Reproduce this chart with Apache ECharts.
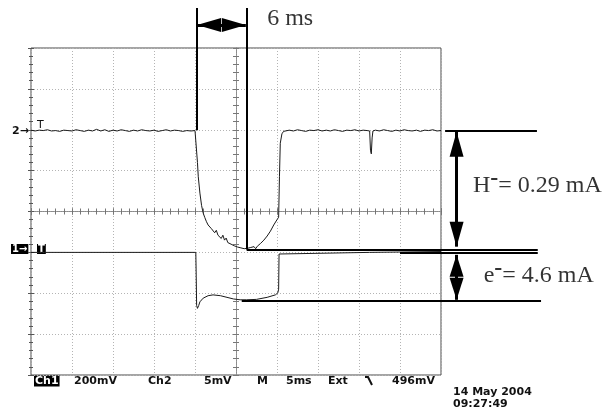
<!DOCTYPE html>
<html><head><meta charset="utf-8">
<script src="https://cdn.jsdelivr.net/npm/echarts@6/dist/echarts.min.js"></script>
<style>html,body{margin:0;padding:0;background:#fff}#c{width:609px;height:415px}</style>
</head><body><div id="c"></div>
<script>
// ---- data (time in ms, 5 ms/div; vertical in screen divisions) ----
const timeRange = [0, 50];
const divRange = [-4, 4];
const timeInterval = 5;
const divInterval = 1;

// Channel 2 (H- current)
const ch2Trace = [
 [0,1.99],[0.5,1.97],[1,1.99],[1.5,1.98],[2,2.00],[2.5,1.97],[3,1.98],[3.5,1.96],[4,1.99],[4.5,1.98],
 [5,1.97],[5.5,2.00],[6,1.98],[6.5,1.96],[7,1.99],[7.5,1.97],[8,2.01],[8.5,1.97],[9,2.00],[9.5,1.96],
 [10,1.99],[10.5,1.97],[11,2.00],[11.5,1.98],[12,1.96],[12.5,1.99],[13,1.97],[13.5,2.00],[14,1.98],[14.5,1.97],
 [15,1.99],[15.5,1.96],[16,1.98],[16.5,2.00],[17,1.97],[17.5,1.99],[18,1.98],[18.5,1.96],[19,1.98],[19.5,1.97],
 [20,1.98],[20.15,1.97],
 [20.3,1.20],[20.4,0.85],[20.6,0.45],[20.8,0.15],[21.0,-0.04],[21.2,-0.15],[21.4,-0.25],[21.6,-0.33],
 [21.8,-0.30],[22.0,-0.42],[22.2,-0.40],[22.4,-0.52],[22.6,-0.46],[22.8,-0.58],[23.0,-0.55],[23.2,-0.66],
 [23.4,-0.58],[23.6,-0.70],[23.8,-0.65],[24.0,-0.76],[24.2,-0.72],[24.4,-0.80],[24.6,-0.78],[24.8,-0.84],
 [25.0,-0.83],[25.2,-0.87],[25.4,-0.86],[25.6,-0.89],[25.8,-0.90],[26.0,-0.91],[26.2,-0.92],[26.4,-0.90],
 [26.6,-0.93],[26.8,-0.88],[27.0,-0.92],[27.2,-0.86],[27.4,-0.91],[27.6,-0.85],[27.8,-0.84],[28.0,-0.78],
 [28.2,-0.80],[28.4,-0.70],[28.6,-0.72],[28.8,-0.60],[29.0,-0.58],[29.2,-0.48],[29.4,-0.44],[29.6,-0.33],
 [29.8,-0.30],[30.0,-0.20],[30.2,-0.14],[30.3,0.85],[30.4,1.67],[30.6,1.90],[30.8,1.96],[31.0,1.98],
 [31.5,1.99],[32,1.97],[32.5,2.00],[33,1.98],[33.5,1.96],[34,1.99],[34.5,1.98],[35,2.00],[35.5,1.97],[36,1.99],
 [36.5,1.97],[37,2.00],[37.5,1.98],[38,1.96],[38.5,1.99],[39,1.98],[39.5,2.00],[40,1.97],[40.5,1.99],[41,1.98],
 [41.3,1.97],[41.4,1.50],[41.5,1.41],[41.6,1.80],[41.7,1.97],[42,1.99],[42.5,1.97],[43,2.00],[43.5,1.98],[44,1.96],
 [44.5,1.99],[45,1.97],[45.5,2.00],[46,1.98],[46.5,1.97],[47,1.99],[47.5,1.96],[48,1.99],[48.5,1.98],[49,2.00],
 [49.5,1.97],[50,1.98]
];

// Channel 1 (electron current)
const ch1Trace = [
 [0,-1.0],[20.1,-1.0],[20.15,-1.6],[20.2,-2.3],[20.3,-2.37],[20.45,-2.3],[20.6,-2.21],[21.0,-2.12],
 [21.6,-2.06],[22.2,-2.04],[23.1,-2.06],[23.9,-2.10],[24.7,-2.14],[25.5,-2.16],[26.3,-2.16],[27.5,-2.15],
 [28.8,-2.10],[29.8,-2.04],[30.1,-1.99],[30.2,-1.9],[30.25,-1.04],[30.4,-1.0],[41.3,-1.0],[41.4,-0.97],
 [41.5,-0.98],[50,-0.98]
];

// Annotation overlay (same units, extended beyond the screen)
const cursorLines = [
 [[20.2, 4.98], [20.2, 1.99]],
 [[26.3, 4.98], [26.3, -0.93]]
];
const levelLines = [
 [[50.5, 1.97], [61.7, 1.97]],
 [[26.3, -0.93], [61.8, -0.93]],
 [[45.0, -1.01], [61.8, -1.01]],
 [[25.7, -2.19], [62.2, -2.19]]
];
const arrowLines = [
 [[20.25, 4.56], [26.2, 4.56]],
 [[51.9, 1.95], [51.9, -0.86]],
 [[51.9, -1.06], [51.9, -2.16]]
];
const annotationTexts = ['6 ms', '{t|H}{s|-}{t|= 0.29 mA}', '{t|e}{s|-}{t|= 4.6 mA}'];
const annotationAt = [[28.8, 4.72], [53.9, 0.62], [55.2, -1.58]];

const readoutTexts = ['Ch1', '200mV', 'Ch2', '5mV', 'M', '5ms', 'Ext', '496mV'];
const dateTexts = ['14 May 2004', '09:27:49'];

// ---- layout ----
const W = 609, H = 415;
const scopeGrid = {left: 31, top: 48, width: 410, height: 327};
const pxPerMs = scopeGrid.width / (timeRange[1] - timeRange[0]);
const pxPerDiv = scopeGrid.height / (divRange[1] - divRange[0]);
const ovX = [timeRange[0] - scopeGrid.left / pxPerMs, timeRange[0] + (W - scopeGrid.left) / pxPerMs];
const ovY = [divRange[1] - (H - scopeGrid.top) / pxPerDiv, divRange[1] + scopeGrid.top / pxPerDiv];
const arrowHeads = [[14, 24], [14, 25], [14, 22]];
const readoutX = [34, 74, 148, 204, 257, 286, 328, 392];

const tickColor = '#555';
function frameAxis(position, isX, split) {
  return {
    type: 'value', gridIndex: 0, position,
    min: isX ? timeRange[0] : divRange[0], max: isX ? timeRange[1] : divRange[1],
    interval: isX ? timeInterval : divInterval,
    axisLine: {show: false},
    axisTick: {show: true, inside: true, length: 3, lineStyle: {color: tickColor, width: 1}},
    minorTick: {show: true, splitNumber: 5, length: 2, lineStyle: {color: tickColor, width: 1}},
    axisLabel: {show: false},
    splitLine: {show: split, lineStyle: {color: '#b4b4b4', type: [1, 2], width: 1}}
  };
}
function centerAxis(isX, gridIndex, inside) {
  const half = isX ? (timeRange[1] - timeRange[0]) / 2 : (divRange[1] - divRange[0]) / 2;
  return {
    type: 'value', gridIndex, min: -half, max: half,
    interval: isX ? timeInterval : divInterval,
    axisLine: {show: true, onZero: true, lineStyle: {color: '#8a8a8a', type: [1, 1], width: 1}},
    axisTick: {show: true, inside, length: 3, lineStyle: {color: '#777', width: 1}},
    minorTick: {show: true, splitNumber: 5, length: 3, lineStyle: {color: '#777', width: 1}},
    axisLabel: {show: false}, splitLine: {show: false}
  };
}
function overlayAxis(isX) {
  return {type: 'value', gridIndex: 3, min: isX ? ovX[0] : ovY[0], max: isX ? ovX[1] : ovY[1], show: false};
}

const sansFont = 'bold 11px "DejaVu Sans"';
const graphic = [];
readoutTexts.forEach((t, i) => {
  const isCh1 = i === 0;
  graphic.push({type: 'text', x: readoutX[i], y: 381, silent: true,
    style: {text: t, font: sansFont, fill: isCh1 ? '#fff' : '#111', verticalAlign: 'middle',
      backgroundColor: isCh1 ? '#000' : null, padding: isCh1 ? [0, 1] : 0}});
});
dateTexts.forEach((t, i) => {
  graphic.push({type: 'text', x: 453, y: 392 + i * 12, silent: true,
    style: {text: t, font: sansFont, fill: '#111', verticalAlign: 'middle'}});
});
graphic.push({type: 'polyline', silent: true, shape: {points: [[365, 377], [368, 377], [372, 385]]},
  style: {stroke: '#111', lineWidth: 2, fill: null}});
graphic.push({type: 'text', x: 12, y: 131, silent: true,
  style: {text: '2→', font: sansFont, fill: '#111', verticalAlign: 'middle'}});
graphic.push({type: 'text', x: 11, y: 249, silent: true,
  style: {text: '1→', font: 'bold 10px "DejaVu Sans"', fill: '#fff', backgroundColor: '#000', padding: [0, 1], verticalAlign: 'middle'}});
graphic.push({type: 'text', x: 37, y: 125, silent: true,
  style: {text: 'T', font: '11px "DejaVu Sans"', fill: '#111', verticalAlign: 'middle'}});
graphic.push({type: 'text', x: 37, y: 249, silent: true,
  style: {text: 'T', font: 'bold 10px "DejaVu Sans"', fill: '#fff', backgroundColor: '#000', padding: [0, 1], verticalAlign: 'middle'}});

const lineStyleAnn = {color: '#000', type: 'solid', width: 2};
const markData = [];
cursorLines.concat(levelLines).forEach(s => {
  markData.push([{coord: s[0], symbol: 'none', lineStyle: lineStyleAnn}, {coord: s[1], symbol: 'none', lineStyle: lineStyleAnn}]);
});
arrowLines.forEach((s, i) => {
  const end = {symbol: 'triangle', symbolSize: arrowHeads[i], symbolOffset: [0, '50%'],
    itemStyle: {color: '#000'}, lineStyle: {color: '#000', type: 'solid', width: 3}};
  markData.push([Object.assign({coord: s[0]}, end), Object.assign({coord: s[1]}, end)]);
});

const option = {
  animation: false,
  backgroundColor: '#fff',
  grid: [
    Object.assign({show: true, borderColor: '#4a4a4a', borderWidth: 1, backgroundColor: 'transparent'}, scopeGrid),
    Object.assign({}, scopeGrid),
    Object.assign({}, scopeGrid),
    {left: 0, top: 0, width: W, height: H}
  ],
  xAxis: [frameAxis('bottom', true, true), frameAxis('top', true, false),
    centerAxis(true, 1, false), centerAxis(true, 2, true), overlayAxis(true)],
  yAxis: [frameAxis('left', false, true), frameAxis('right', false, false),
    centerAxis(false, 1, false), centerAxis(false, 2, true), overlayAxis(false)],
  graphic,
  series: [
    {type: 'line', xAxisIndex: 0, yAxisIndex: 0, data: ch2Trace, symbol: 'none', silent: true,
      lineStyle: {color: '#1a1a1a', width: 1}, z: 3},
    {type: 'line', xAxisIndex: 0, yAxisIndex: 0, data: ch1Trace, symbol: 'none', silent: true,
      lineStyle: {color: '#1a1a1a', width: 1}, z: 3},
    {type: 'scatter', xAxisIndex: 4, yAxisIndex: 4, z: 5, silent: true, symbolSize: 0,
      data: annotationAt.map((p, i) => ({value: p, label: {formatter: annotationTexts[i]}})),
      label: {show: true, position: 'right', distance: 0, color: '#000',
        fontFamily: '"Liberation Serif"', fontSize: 24,
        rich: {
          t: {fontFamily: '"Liberation Serif"', fontSize: 24, color: '#000'},
          s: {fontFamily: '"Liberation Serif"', fontSize: 24, fontWeight: 'bold', color: '#000', padding: [0, 0, 14, 0]}
        }},
      markLine: {silent: true, animation: false, label: {show: false}, symbol: ['none', 'none'],
        lineStyle: lineStyleAnn, emphasis: {disabled: true}, data: markData}
    }
  ]
};
const chart = echarts.init(document.getElementById('c'), null, {renderer: 'canvas'});
chart.setOption(option);
</script></body></html>
